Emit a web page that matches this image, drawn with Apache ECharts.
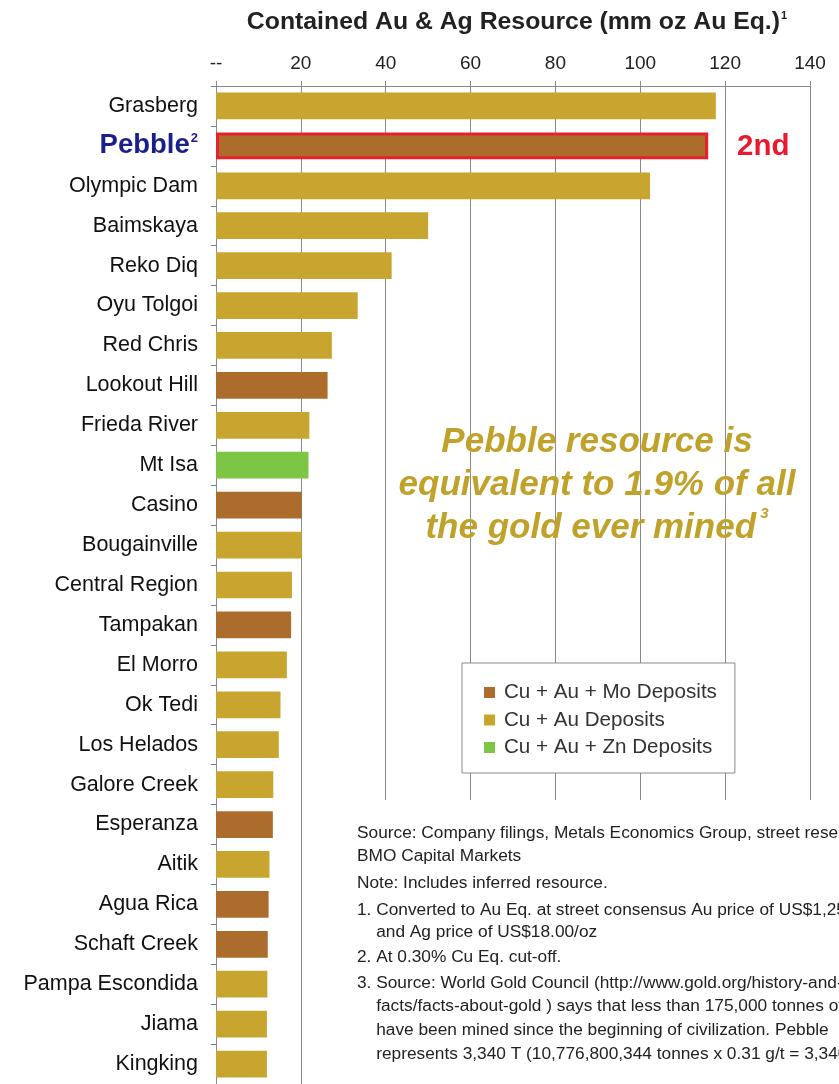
<!DOCTYPE html>
<html>
<head>
<meta charset="utf-8">
<script src="https://cdn.jsdelivr.net/npm/echarts@6/dist/echarts.min.js"></script>
<style>
  html, body { margin: 0; padding: 0; background: #fff; }
  #chart { width: 839px; height: 1084px; }
</style>
</head>
<body>
<div id="chart"></div>
<script>
// deposits, top to bottom
var categories = ['Grasberg', 'Pebble', 'Olympic Dam', 'Baimskaya', 'Reko Diq', 'Oyu Tolgoi', 'Red Chris',
  'Lookout Hill', 'Frieda River', 'Mt Isa', 'Casino', 'Bougainville', 'Central Region', 'Tampakan',
  'El Morro', 'Ok Tedi', 'Los Helados', 'Galore Creek', 'Esperanza', 'Aitik', 'Agua Rica',
  'Schaft Creek', 'Pampa Escondida', 'Jiama', 'Kingking'];
// contained Au & Ag (mm oz Au Eq.)
var values = [117.8, 116, 102.3, 50, 41.4, 33.4, 27.3, 26.3, 22, 21.8, 20.2, 20.2, 17.9, 17.7,
  16.7, 15.2, 14.8, 13.5, 13.4, 12.6, 12.4, 12.2, 12.1, 12, 12];
// deposit type: 0 = Cu+Au+Mo, 1 = Cu+Au, 2 = Cu+Au+Zn
var depositType = [1, 0, 1, 1, 1, 1, 1, 0, 1, 2, 0, 1, 1, 0, 1, 1, 1, 1, 0, 1, 0, 0, 1, 1, 1];
var typeNames = ['Cu + Au + Mo Deposits', 'Cu + Au Deposits', 'Cu + Au + Zn Deposits'];
var xTicks = [0, 20, 40, 60, 80, 100, 120, 140];

var typeColors = ['#AC6C2C', '#C8A52E', '#7CC545'];
var footnote = [
  'Source: Company filings, Metals Economics Group, street research,',
  'BMO Capital Markets',
  'Note: Includes inferred resource.',
  '1. Converted to Au Eq. at street consensus Au price of US$1,250/oz',
  '    and Ag price of US$18.00/oz',
  '2. At 0.30% Cu Eq. cut-off.',
  '3. Source: World Gold Council (http://www.gold.org/history-and-',
  '    facts/facts-about-gold ) says that less than 175,000 tonnes of gold',
  '    have been mined since the beginning of civilization. Pebble',
  '    represents 3,340 T (10,776,800,344 tonnes x 0.31 g/t = 3,340 T)'
];
var footY = [825, 848, 875, 902, 924, 949, 975, 998, 1022, 1046];

var font = '"Liberation Sans", Arial';
var chart = echarts.init(document.getElementById('chart'));

// one series per deposit type, stacked so all bars share the same slot
var series = typeNames.map(function (name, t) {
  return {
    name: name,
    type: 'bar',
    stack: 'all',
    barCategoryGap: '33%',
    itemStyle: { color: typeColors[t] },
    data: values.map(function (v, i) {
      if (depositType[i] !== t) return '-';
      if (categories[i] === 'Pebble') {
        return { value: v, itemStyle: { borderColor: '#E8202E', borderWidth: 3 } };
      }
      return v;
    })
  };
});

var graphics = [
  // white panel under footnotes
  { type: 'rect', left: 345, top: 800, shape: { width: 500, height: 290 },
    style: { fill: '#fff' }, z: 100 },
  { type: 'text', left: 737, top: 132, z: 101,
    style: { text: '2nd', font: 'bold 29.5px ' + font, fill: '#E8192C' } },
  { type: 'text', x: 597, y: 485, z: 101,
    style: {
      text: '{a|Pebble resource is}\n{a|equivalent to 1.9% of all}\n{a|the gold ever mined}{s| 3}',
      align: 'center', verticalAlign: 'middle',
      rich: {
        a: { font: 'italic bold 35px ' + font, fill: '#C0A22B', lineHeight: 43 },
        s: { font: 'italic bold 15px ' + font, fill: '#C0A22B', verticalAlign: 'top', lineHeight: 43 }
      }
    } }
];
footnote.forEach(function (line, i) {
  graphics.push({ type: 'text', left: 357, top: footY[i], z: 101,
    style: { text: line, font: '17.3px ' + font, fill: '#222' } });
});

chart.setOption({
  animation: false,
  title: {
    text: '{t|Contained Au & Ag Resource (mm oz Au Eq.)}{s|1}',
    left: 512, top: 5, textAlign: 'center',
    textStyle: {
      rich: {
        t: { fontFamily: font, fontWeight: 'bold', fontSize: 24.8, color: '#222' },
        s: { fontFamily: font, fontWeight: 'bold', fontSize: 11, color: '#222', verticalAlign: 'top', padding: [0, 0, 12, 1] }
      }
    }
  },
  legend: {
    orient: 'vertical',
    left: 462, top: 663,
    padding: [19, 18, 15, 22],
    itemGap: 6.5,
    itemWidth: 11, itemHeight: 11,
    icon: 'rect',
    borderColor: '#8a8a8a', borderWidth: 1,
    backgroundColor: '#fff',
    selectedMode: false,
    textStyle: { fontFamily: font, fontSize: 20.6, color: '#333', padding: [0, 0, 0, 4] },
    data: typeNames
  },
  grid: { left: 216, top: 86, width: 594, height: 1002.5 },
  xAxis: {
    type: 'value',
    position: 'top',
    min: 0, max: 140, interval: 20,
    axisLine: { show: true, lineStyle: { color: '#8a8a8a', width: 1 } },
    axisTick: { show: true, length: 5, lineStyle: { color: '#8a8a8a' } },
    axisLabel: {
      margin: 13,
      fontFamily: font, fontSize: 19, color: '#222',
      formatter: function (v) { return v === xTicks[0] ? '--' : String(v); }
    },
    splitLine: { show: true, lineStyle: { color: '#8a8a8a', width: 1 } }
  },
  yAxis: {
    type: 'category',
    inverse: true,
    data: categories,
    axisLine: { show: true, lineStyle: { color: '#8a8a8a' } },
    axisTick: { show: true, length: 5, lineStyle: { color: '#6a7aa0' } },
    axisLabel: {
      margin: 18,
      fontFamily: font, fontSize: 21.5, color: '#111',
      formatter: function (v) {
        return v === 'Pebble' ? '{p|Pebble}{s|2}' : v;
      },
      rich: {
        p: { fontFamily: font, fontWeight: 'bold', fontSize: 27.5, color: '#1B1F8C' },
        s: { fontFamily: font, fontWeight: 'bold', fontSize: 13, color: '#1B1F8C', verticalAlign: 'top', padding: [0, 0, 12, 1] }
      }
    }
  },
  series: series,
  graphic: graphics
});
</script>
</body>
</html>
